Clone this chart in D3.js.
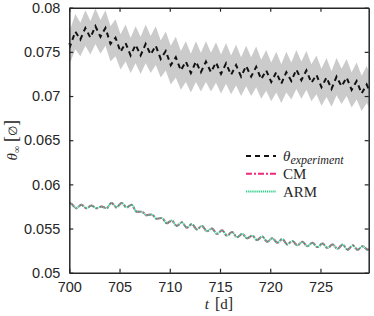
<!DOCTYPE html>
<html>
<head>
<meta charset="utf-8">
<script src="https://cdn.jsdelivr.net/npm/d3@7"></script>
<style>
  html, body { margin: 0; padding: 0; background: #fff; }
  .tick text { font-family: 'Liberation Sans', Arial, sans-serif; font-size: 14.5px; fill: #262626; }
  .math { font-family: 'Liberation Serif', 'DejaVu Serif', serif; fill: #262626; }
</style>
</head>
<body>
<div id="chart"></div>
<script>
// time [d] of the experiment samples (troughs / peaks of the daily cycle)
const expT = [
  700, 700.1, 700.6, 701.1, 701.6, 702.1, 702.6, 703.1, 703.6, 704.1, 704.6,
  705.1, 705.6, 706.1, 706.6, 707.1, 707.6, 708.1, 708.6, 709.1, 709.6,
  710.1, 710.6, 711.1, 711.6, 712.1, 712.6, 713.1, 713.6, 714.1, 714.6,
  715.1, 715.6, 716.1, 716.6, 717.1, 717.6, 718.1, 718.6, 719.1, 719.6,
  720.1, 720.6, 721.1, 721.6, 722.1, 722.6, 723.1, 723.6, 724.1, 724.6,
  725.1, 725.6, 726.1, 726.6, 727.1, 727.6, 728.1, 728.6, 729.1, 729.6, 729.8
];
const expMean = [
  0.0760, 0.0757, 0.0773, 0.0764, 0.0777, 0.0766, 0.0779, 0.0767, 0.0777, 0.0759, 0.0766,
  0.0750, 0.0760, 0.0746, 0.0758, 0.0746, 0.0759, 0.0747, 0.0757, 0.0742, 0.0751,
  0.0735, 0.0744, 0.0729, 0.0739, 0.0726, 0.0739, 0.0727, 0.0739, 0.0727, 0.0738,
  0.0725, 0.0737, 0.0724, 0.0735, 0.0722, 0.0734, 0.0722, 0.0733, 0.0719, 0.0729,
  0.0716, 0.0727, 0.0714, 0.0727, 0.0717, 0.0730, 0.0718, 0.0729, 0.0715, 0.0724,
  0.0710, 0.0721, 0.0708, 0.0722, 0.0711, 0.0721, 0.0707, 0.0717, 0.0703, 0.0713, 0.0708
];
// half width of the grey band around the experiment
const expSpread = [
  0.0019, 0.0019, 0.0020, 0.0019, 0.0020, 0.0019, 0.0020, 0.0019, 0.0020, 0.0020, 0.0021,
  0.0020, 0.0021, 0.0020, 0.0021, 0.0021, 0.0022, 0.0021, 0.0022, 0.0021, 0.0022,
  0.0022, 0.0023, 0.0022, 0.0023, 0.0022, 0.0023, 0.0022, 0.0023, 0.0022, 0.0023,
  0.0022, 0.0023, 0.0022, 0.0023, 0.0022, 0.0023, 0.0022, 0.0023, 0.0022, 0.0023,
  0.0022, 0.0023, 0.0022, 0.0023, 0.0021, 0.0022, 0.0021, 0.0022, 0.0021, 0.0022,
  0.0021, 0.0022, 0.0020, 0.0021, 0.0020, 0.0021, 0.0020, 0.0021, 0.0020, 0.0021, 0.0020
];

// model time grid and values (CM and ARM coincide)
const modelT = [
  700, 700.2, 700.7, 701.2, 701.7, 702.2, 702.7, 703.2, 703.7, 704.2, 704.7,
  705.2, 705.7, 706.2, 706.7, 707.2, 707.7, 708.2, 708.7, 709.2, 709.7,
  710.2, 710.7, 711.2, 711.7, 712.2, 712.7, 713.2, 713.7, 714.2, 714.7,
  715.2, 715.7, 716.2, 716.7, 717.2, 717.7, 718.2, 718.7, 719.2, 719.7,
  720.2, 720.7, 721.2, 721.7, 722.2, 722.7, 723.2, 723.7, 724.2, 724.7,
  725.2, 725.7, 726.2, 726.7, 727.2, 727.7, 728.2, 728.7, 729.2, 729.7, 729.8
];
const cmValues = [
  0.0579, 0.0578, 0.0573, 0.0577, 0.0573, 0.0576, 0.0573, 0.0575, 0.0573, 0.0579, 0.0574,
  0.0579, 0.0574, 0.0577, 0.0569, 0.0569, 0.0565, 0.0566, 0.0561, 0.0562, 0.0556,
  0.0559, 0.0553, 0.0557, 0.0551, 0.0555, 0.0549, 0.0553, 0.0547, 0.0550, 0.0544,
  0.0548, 0.0542, 0.0546, 0.0540, 0.0544, 0.0539, 0.0542, 0.0537, 0.0541, 0.0535,
  0.0539, 0.0534, 0.0538, 0.0532, 0.0536, 0.0531, 0.0535, 0.0530, 0.0534, 0.0529,
  0.0533, 0.0528, 0.0532, 0.0527, 0.0532, 0.0526, 0.0531, 0.0526, 0.0530, 0.0526, 0.0527
];
const armValues = cmValues.slice();

const xTicks = [700, 705, 710, 715, 720, 725];
const yTicks = [0.05, 0.055, 0.06, 0.065, 0.07, 0.075, 0.08];

const legendItems = [
  { label: 'θ', sub: 'experiment', color: '#111', dash: '5,4', width: 2 },
  { label: 'CM', color: '#ee2a7b', dash: '6,2,2,2', width: 2 },
  { label: 'ARM', color: '#34cf8e', dash: '1.3,0.8', width: 2 }
];

const W = 374, H = 316;
const margin = { top: 7.7, right: 5.3, bottom: 43.3, left: 69.3 };
const width = W - margin.left - margin.right;
const height = H - margin.top - margin.bottom;

const svg = d3.select('#chart').append('svg')
  .attr('width', W)
  .attr('height', H);

const g = svg.append('g')
  .attr('transform', `translate(${margin.left},${margin.top})`);

const x = d3.scaleLinear().domain([700, 729.8]).range([0, width]);
const y = d3.scaleLinear().domain([0.05, 0.08]).range([height, 0]);

// grey band
const expData = expT.map((t, i) => ({ t, m: expMean[i], s: expSpread[i] }));
g.append('path')
  .datum(expData)
  .attr('fill', '#cbcbcb')
  .attr('d', d3.area()
    .x(d => x(d.t))
    .y0(d => y(d.m - d.s))
    .y1(d => y(d.m + d.s)));

// experiment mean
g.append('path')
  .datum(expData)
  .attr('fill', 'none')
  .attr('stroke', '#111')
  .attr('stroke-width', 2)
  .attr('stroke-dasharray', '5,4')
  .attr('d', d3.line().x(d => x(d.t)).y(d => y(d.m)));

const modelLine = d3.line().curve(d3.curveMonotoneX).x(d => x(d[0])).y(d => y(d[1]));

g.append('path')
  .datum(modelT.map((t, i) => [t, cmValues[i]]))
  .attr('fill', 'none')
  .attr('stroke', '#ee2a7b')
  .attr('stroke-width', 2)
  .attr('stroke-dasharray', '6,2,2,2')
  .attr('d', modelLine);

g.append('path')
  .datum(modelT.map((t, i) => [t, armValues[i]]))
  .attr('fill', 'none')
  .attr('stroke', '#34cf8e')
  .attr('stroke-width', 2)
  .attr('stroke-dasharray', '1.3,0.8')
  .attr('d', modelLine);

// axes (inward ticks on all four sides)
const styleAxis = sel => {
  sel.select('.domain').attr('stroke', '#262626').attr('stroke-width', 1.5);
  sel.selectAll('.tick line').attr('stroke', '#262626').attr('stroke-width', 1.2);
};

g.append('g')
  .attr('transform', `translate(0,${height})`)
  .call(d3.axisBottom(x).tickValues(xTicks).tickSize(-4).tickPadding(9).tickSizeOuter(0))
  .call(styleAxis);

g.append('g')
  .call(d3.axisTop(x).tickValues(xTicks).tickSize(-4).tickFormat('').tickSizeOuter(0))
  .call(styleAxis);

g.append('g')
  .call(d3.axisLeft(y).tickValues(yTicks).tickSize(-4).tickPadding(9).tickSizeOuter(0)
    .tickFormat(d3.format('~g')))
  .call(styleAxis);

g.append('g')
  .attr('transform', `translate(${width},0)`)
  .call(d3.axisRight(y).tickValues(yTicks).tickSize(-4).tickFormat('').tickSizeOuter(0))
  .call(styleAxis);

svg.selectAll('.tick text').attr('font-family', null).attr('font-size', null);

// x label: t [d]
const xl = svg.append('text')
  .attr('class', 'math')
  .attr('x', margin.left + width / 2)
  .attr('y', 309)
  .attr('text-anchor', 'middle')
  .attr('font-size', 15);
xl.append('tspan').attr('font-style', 'italic').text('t');
xl.append('tspan').attr('font-size', 16).attr('dx', 6).text('[');
xl.append('tspan').text('d');
xl.append('tspan').attr('font-size', 16).text(']');

// y label: θ∞ [∅]
const yl = svg.append('text')
  .attr('class', 'math')
  .attr('transform', `translate(17,${margin.top + height / 2}) rotate(-90)`)
  .attr('text-anchor', 'middle')
  .attr('font-size', 15);
yl.append('tspan').attr('font-style', 'italic').text('θ');
yl.append('tspan').attr('font-size', 10).attr('dy', 3).text('∞');
yl.append('tspan').attr('font-size', 18).attr('dy', -3).attr('dx', 4).text('[');
yl.append('tspan').attr('font-family', 'DejaVu Serif').attr('font-size', 12).text('∅');
yl.append('tspan').attr('font-size', 18).text(']');

// legend
const legend = svg.append('g').attr('transform', 'translate(246,156)');
legendItems.forEach((d, i) => {
  const row = legend.append('g').attr('transform', `translate(0,${i * 17.8})`);
  row.append('line')
    .attr('x1', 0).attr('x2', 30)
    .attr('stroke', d.color)
    .attr('stroke-width', d.width)
    .attr('stroke-dasharray', d.dash);
  const t = row.append('text')
    .attr('class', 'math')
    .attr('x', 37)
    .attr('y', 5)
    .attr('font-size', 15);
  if (d.sub) {
    t.append('tspan').attr('font-style', 'italic').text(d.label);
    t.append('tspan').attr('font-style', 'italic').attr('font-size', 12).attr('dy', 3).text(d.sub);
  } else {
    t.text(d.label);
  }
});
</script>
</body>
</html>
